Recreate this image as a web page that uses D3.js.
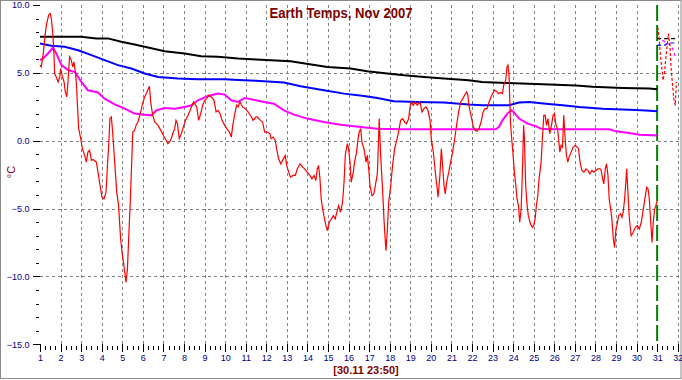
<!DOCTYPE html>
<html>
<head>
<meta charset="utf-8">
<script src="https://cdn.jsdelivr.net/npm/d3@7"></script>
<style>
  body { margin: 0; background: #fff; }
  svg { display: block; font-family: "Liberation Sans", Arial, sans-serif; }
</style>
</head>
<body>
<script>
// chart texts
let title = "Earth Temps, Nov 2007";
let stamp = "[30.11 23:50]";
let yTitle = "°C";

// tick labels
let dayTicks = d3.range(1, 33);
let tempTicks = [-15, -10, -5, 0, 5, 10];

// series values, [day, temp]
let black = [[1,7.66],[3,7.66],[3.74,7.54],[4.3,7.54],[4.95,7.29],[5.6,7.09],[6.25,6.87],[7.06,6.6],[8.03,6.43],[8.84,6.23],[9.65,6.18],[10.63,6.06],[11.5,5.99],[13.18,5.86],[14.97,5.44],[16.1,5.32],[16.9,5.12],[17.88,4.95],[18.7,4.83],[19.67,4.7],[20.64,4.58],[21.84,4.46],[22.5,4.33],[23.64,4.26],[25.43,4.16],[27.05,4.06],[27.86,3.97],[29.32,3.89],[30.62,3.84],[31,3.79]];

let blue = [[1,7.17],[1.55,7.0],[2.2,6.92],[2.85,6.67],[3.5,6.31],[4.14,5.94],[4.79,5.57],[5.44,5.32],[6.09,4.95],[6.74,4.7],[7.71,4.58],[8.68,4.53],[9.98,4.53],[10.63,4.48],[11.5,4.41],[12.86,4.29],[13.67,4.01],[14.8,3.72],[15.78,3.47],[16.75,3.3],[17.4,3.15],[18.2,2.91],[19.34,2.86],[20.64,2.81],[21.84,2.66],[22.5,2.61],[23.8,2.61],[24.29,2.81],[24.78,2.86],[25.59,2.73],[26.4,2.61],[27.21,2.49],[28.35,2.36],[29.65,2.29],[30.46,2.22],[31,2.17]];

let magenta = [[1,5.94],[1.15,6.06],[1.39,6.43],[1.63,6.85],[1.79,6.43],[2.04,5.57],[2.36,5.2],[2.69,5.07],[3.01,4.33],[3.33,3.72],[3.82,3.55],[4.14,3.1],[4.63,2.68],[5.12,2.36],[5.6,2.0],[6.09,1.92],[6.41,1.87],[6.66,2.24],[7.06,2.41],[7.55,2.36],[8.03,2.49],[8.36,2.61],[8.68,2.98],[9.17,3.3],[9.65,3.47],[9.98,3.4],[10.3,2.98],[10.63,2.86],[10.95,3.15],[11.5,2.98],[11.89,2.86],[12.37,2.73],[12.86,2.24],[13.35,1.92],[13.99,1.63],[14.8,1.38],[15.61,1.18],[16.59,1.01],[17.4,0.89],[18.53,0.84],[23.15,0.84],[23.31,1.01],[23.48,1.5],[23.72,2.0],[23.92,2.24],[24.05,2.07],[24.29,1.63],[24.7,1.26],[25.1,1.08],[25.34,0.89],[25.75,0.84],[28.67,0.84],[29.0,0.69],[29.65,0.57],[30.13,0.44],[31,0.39]];

let red = [[1.00,5.57],[1.06,5.44],[1.15,6.31],[1.23,7.54],[1.31,8.52],[1.42,9.26],[1.49,9.38],[1.55,9.01],[1.63,7.78],[1.68,6.31],[1.71,4.95],[1.79,4.70],[1.88,4.33],[1.96,4.70],[2.00,5.32],[2.07,4.83],[2.17,4.33],[2.23,3.60],[2.30,3.23],[2.36,4.33],[2.44,6.18],[2.52,5.94],[2.59,5.44],[2.65,5.81],[2.72,5.07],[2.78,3.97],[2.82,2.61],[2.88,0.89],[2.98,0.15],[3.06,-0.59],[3.17,-1.08],[3.25,-1.58],[3.33,-0.84],[3.41,-0.71],[3.50,-1.45],[3.58,-1.38],[3.74,-1.58],[3.82,-2.32],[3.92,-3.30],[4.01,-4.16],[4.11,-4.29],[4.21,-3.79],[4.27,-2.07],[4.34,-0.34],[4.40,1.63],[4.47,1.75],[4.53,0.64],[4.63,-1.58],[4.73,-3.79],[4.82,-4.78],[4.92,-7.24],[4.99,-8.23],[5.08,-9.21],[5.18,-10.44],[5.25,-9.46],[5.31,-7.24],[5.38,-4.78],[5.44,-2.32],[5.51,0.64],[5.60,0.76],[5.67,1.13],[5.76,1.38],[5.85,1.87],[5.93,2.36],[6.01,2.86],[6.09,3.23],[6.19,3.55],[6.32,4.01],[6.38,2.86],[6.48,1.87],[6.58,1.38],[6.74,1.13],[6.87,0.76],[7.00,0.39],[7.09,0.15],[7.22,-0.22],[7.35,0.02],[7.48,0.64],[7.55,0.89],[7.61,1.50],[7.68,1.26],[7.77,0.15],[7.87,0.52],[7.97,1.01],[8.07,1.50],[8.20,1.87],[8.33,2.36],[8.46,2.86],[8.52,2.73],[8.62,2.49],[8.71,1.50],[8.81,2.00],[8.91,2.61],[9.01,2.98],[9.10,3.10],[9.20,3.35],[9.33,3.23],[9.46,2.98],[9.56,2.12],[9.65,2.24],[9.75,2.00],[9.85,1.50],[9.98,1.13],[10.08,0.89],[10.21,0.64],[10.30,0.27],[10.37,1.13],[10.47,2.00],[10.56,2.61],[10.63,2.49],[10.72,2.86],[10.85,2.49],[10.98,2.36],[11.11,2.12],[11.28,1.75],[11.36,1.50],[11.50,1.75],[11.56,1.75],[11.72,1.50],[11.82,1.38],[11.92,0.64],[12.05,0.64],[12.18,0.52],[12.24,0.15],[12.34,0.27],[12.44,0.02],[12.50,-0.59],[12.60,-1.33],[12.70,-1.70],[12.79,-1.45],[12.92,-1.08],[12.99,-1.82],[13.09,-2.32],[13.18,-2.68],[13.31,-2.56],[13.41,-2.56],[13.51,-2.07],[13.64,-1.70],[13.77,-1.95],[13.86,-2.07],[13.99,-2.32],[14.12,-2.56],[14.22,-2.81],[14.32,-2.56],[14.41,-2.93],[14.48,-2.07],[14.54,-1.82],[14.61,-2.81],[14.67,-4.29],[14.74,-5.02],[14.80,-5.52],[14.90,-6.26],[14.97,-6.63],[15.06,-6.01],[15.16,-5.76],[15.26,-5.52],[15.35,-5.76],[15.45,-5.15],[15.52,-4.78],[15.61,-5.27],[15.71,-4.53],[15.78,-3.05],[15.84,-1.08],[15.94,-0.22],[16.00,-0.59],[16.07,-1.58],[16.13,-3.05],[16.23,-2.32],[16.29,-1.58],[16.39,-0.84],[16.46,0.15],[16.52,0.64],[16.59,0.89],[16.65,-0.10],[16.75,-0.59],[16.85,-1.58],[16.91,-1.08],[16.98,-2.07],[17.04,-3.30],[17.14,-4.04],[17.23,-3.92],[17.33,-3.05],[17.40,-2.44],[17.49,1.63],[17.56,-1.08],[17.66,-3.79],[17.72,-5.76],[17.79,-7.49],[17.82,-8.10],[17.88,-6.75],[17.95,-4.53],[18.05,-3.30],[18.14,-1.82],[18.24,-0.59],[18.34,0.02],[18.43,0.64],[18.53,1.50],[18.63,1.63],[18.73,1.38],[18.82,1.26],[18.92,1.63],[18.99,2.49],[19.05,2.86],[19.15,2.61],[19.24,2.86],[19.34,2.61],[19.47,2.86],[19.57,2.12],[19.67,2.36],[19.76,2.49],[19.86,2.24],[19.96,1.50],[20.02,0.15],[20.12,-0.84],[20.22,-2.32],[20.31,-3.55],[20.35,-4.16],[20.44,-2.56],[20.51,-0.59],[20.57,-1.82],[20.64,-3.30],[20.70,-3.92],[20.77,-3.05],[20.87,-2.32],[20.96,-1.58],[21.06,-0.84],[21.16,0.15],[21.25,1.13],[21.35,2.12],[21.45,2.86],[21.55,3.10],[21.64,3.35],[21.74,3.60],[21.80,3.35],[21.85,2.61],[21.95,1.87],[22.05,1.13],[22.15,0.76],[22.24,0.69],[22.34,0.89],[22.44,1.38],[22.54,2.12],[22.63,2.36],[22.73,2.36],[22.83,2.86],[22.96,3.35],[23.09,3.72],[23.19,3.65],[23.28,3.47],[23.38,3.55],[23.48,3.47],[23.54,4.09],[23.64,4.46],[23.70,5.44],[23.75,5.57],[23.80,4.83],[23.87,1.38],[23.93,0.15],[24.00,-1.08],[24.06,-2.32],[24.13,-3.30],[24.19,-4.29],[24.26,-4.78],[24.32,-6.01],[24.39,-5.02],[24.45,-2.32],[24.51,1.13],[24.55,0.15],[24.61,-3.30],[24.68,-4.78],[24.74,-5.52],[24.84,-6.13],[24.94,-6.38],[25.00,-6.26],[25.07,-5.76],[25.13,-4.78],[25.20,-4.04],[25.26,-2.81],[25.36,-1.58],[25.43,0.39],[25.49,1.87],[25.56,1.87],[25.62,1.13],[25.69,1.63],[25.78,0.52],[25.88,1.26],[25.94,1.87],[26.01,2.00],[26.07,1.26],[26.17,0.76],[26.27,-0.84],[26.33,-0.34],[26.40,-0.47],[26.46,1.87],[26.53,0.15],[26.59,-1.08],[26.66,-1.58],[26.72,-1.21],[26.82,-0.84],[26.92,-0.47],[27.02,-0.34],[27.11,-0.47],[27.18,-0.59],[27.24,-1.45],[27.34,-2.19],[27.44,-2.32],[27.54,-2.07],[27.63,-2.19],[27.73,-2.44],[27.83,-2.19],[27.93,-2.32],[28.02,-2.19],[28.12,-2.07],[28.22,-2.07],[28.28,-2.19],[28.35,-2.81],[28.41,-3.18],[28.48,-2.07],[28.54,-1.70],[28.61,-2.56],[28.67,-4.29],[28.74,-5.02],[28.80,-5.76],[28.87,-7.24],[28.93,-7.86],[29.00,-6.50],[29.06,-6.13],[29.13,-5.52],[29.22,-5.39],[29.29,-5.64],[29.35,-5.27],[29.42,-4.29],[29.48,-3.05],[29.52,-2.07],[29.58,-3.79],[29.65,-5.76],[29.74,-7.00],[29.84,-6.75],[29.94,-6.38],[30.04,-6.26],[30.13,-6.50],[30.23,-6.01],[30.33,-5.02],[30.43,-4.04],[30.49,-3.42],[30.56,-3.55],[30.62,-4.29],[30.69,-6.01],[30.75,-7.49],[30.81,-6.01],[30.88,-5.02],[30.94,-4.78],[31.00,-4.41]];

// dashed pieces right of the "now" line
let redAhead = [[31.03,8.38],[31.10,7.52],[31.16,6.29],[31.23,5.31],[31.29,4.45],[31.36,5.06],[31.42,6.05],[31.49,7.03],[31.55,7.89],[31.62,7.03],[31.68,5.31],[31.75,4.08],[31.81,3.10],[31.88,2.60],[31.94,4.32]];
let blackAhead = [[31.0,7.52],[31.95,7.52]];
let blueAhead = [[31.0,7.03],[31.4,7.05],[31.5,7.2],[31.95,7.2]];
let magentaAhead = [[31.26,7.4],[31.58,7.1],[31.75,6.8],[31.88,6.2]];
let nowDay = 31;

let width = 682, height = 380;

let x = d3.scaleLinear().domain([1, 32]).range([40, 677.7]);
let y = d3.scaleLinear().domain([-15, 10]).range([344.3, 5]);

let svg = d3.select("body").append("svg")
    .attr("width", width)
    .attr("height", height);

// window frame
svg.append("rect")
    .attr("x", 0.5).attr("y", 0.5)
    .attr("width", 680.5).attr("height", 378)
    .attr("fill", "#fff")
    .attr("stroke", "#8a8a8a");

// grid
svg.append("g").selectAll("line")
    .data(dayTicks.filter(d => d > 1 && d !== nowDay))
  .enter().append("line")
    .attr("x1", d => Math.round(x(d)) + 0.5).attr("x2", d => Math.round(x(d)) + 0.5)
    .attr("y1", y(10)).attr("y2", y(-15))
    .attr("stroke", "#808080")
    .attr("stroke-dasharray", "3,3");

svg.append("g").selectAll("line")
    .data([5, 0, -5, -10])
  .enter().append("line")
    .attr("x1", x(1)).attr("x2", 679)
    .attr("y1", d => Math.round(y(d)) + 0.5).attr("y2", d => Math.round(y(d)) + 0.5)
    .attr("stroke", "#808080")
    .attr("stroke-dasharray", "3,3");

// x axis: major days + 6 hour minor ticks
let xMajor = svg.append("g")
    .attr("transform", "translate(0," + Math.round(y(-15)) + ")")
    .call(d3.axisBottom(x).tickValues(dayTicks).tickSize(8).tickPadding(3).tickFormat(d3.format("d")));
let xMinor = svg.append("g")
    .attr("transform", "translate(0," + (Math.round(y(-15)) + 2) + ")")
    .call(d3.axisBottom(x).tickValues(d3.range(1, 32.01, 0.25).filter(d => d % 1 !== 0)).tickSize(4).tickFormat(""));

// y axis: major 5s + unit minor ticks
let yMajor = svg.append("g")
    .attr("transform", "translate(39.5,0)")
    .call(d3.axisLeft(y).tickValues(tempTicks).tickSize(7).tickPadding(3).tickFormat(d3.format(".1f")));
let yMinor = svg.append("g")
    .attr("transform", "translate(38.5,0)")
    .call(d3.axisLeft(y).tickValues(d3.range(-14, 10).filter(d => d % 5 !== 0)).tickSize(3).tickFormat(""));

[xMajor, xMinor, yMajor, yMinor].forEach(function(g) {
  g.select(".domain").remove();
  g.selectAll("line").attr("stroke", "#000").attr("shape-rendering", "crispEdges");
  g.selectAll("text").attr("fill", "#000080").attr("font-size", "9px")
      .attr("font-family", "Liberation Sans, Arial, sans-serif");
});

// "now" marker
svg.append("line")
    .attr("x1", x(nowDay)).attr("x2", x(nowDay))
    .attr("y1", y(10)).attr("y2", y(-15))
    .attr("stroke", "#008000")
    .attr("stroke-width", 2)
    .attr("stroke-dasharray", "16,4");

let line = d3.line()
    .x(function(d) { return x(d[0]); })
    .y(function(d) { return y(d[1]); });

function draw(data, color, w, dash) {
  svg.append("path")
      .datum(data)
      .attr("fill", "none")
      .attr("stroke", color)
      .attr("stroke-width", w)
      .attr("stroke-dasharray", dash)
      .attr("d", line);
}

draw(black, "#000000", 2, null);
draw(blue, "#0000ff", 2, null);
draw(magenta, "#ff00ff", 2, null);
draw(red, "#ff0000", 1.2, null);

draw(blackAhead, "#000000", 1.2, "4,3");
draw(blueAhead, "#0000ff", 1.2, "4,3");
draw(magentaAhead, "#ff00ff", 1.2, "3,3");
draw(redAhead, "#ff0000", 1.2, "3,2");

// texts
svg.append("text")
    .attr("x", 341).attr("y", 18)
    .attr("text-anchor", "middle")
    .attr("font-size", "15px").attr("font-weight", "bold")
    .attr("fill", "#800000")
    .attr("textLength", 143).attr("lengthAdjust", "spacingAndGlyphs")
    .text(title);

svg.append("text")
    .attr("x", 366).attr("y", 374)
    .attr("text-anchor", "middle")
    .attr("font-size", "11px").attr("font-weight", "bold")
    .attr("fill", "#800000")
    .text(stamp);

svg.append("text")
    .attr("transform", "translate(15,172) rotate(-90)")
    .attr("text-anchor", "middle")
    .attr("font-size", "11px")
    .attr("fill", "#800000")
    .text(yTitle);
</script>
</body>
</html>
